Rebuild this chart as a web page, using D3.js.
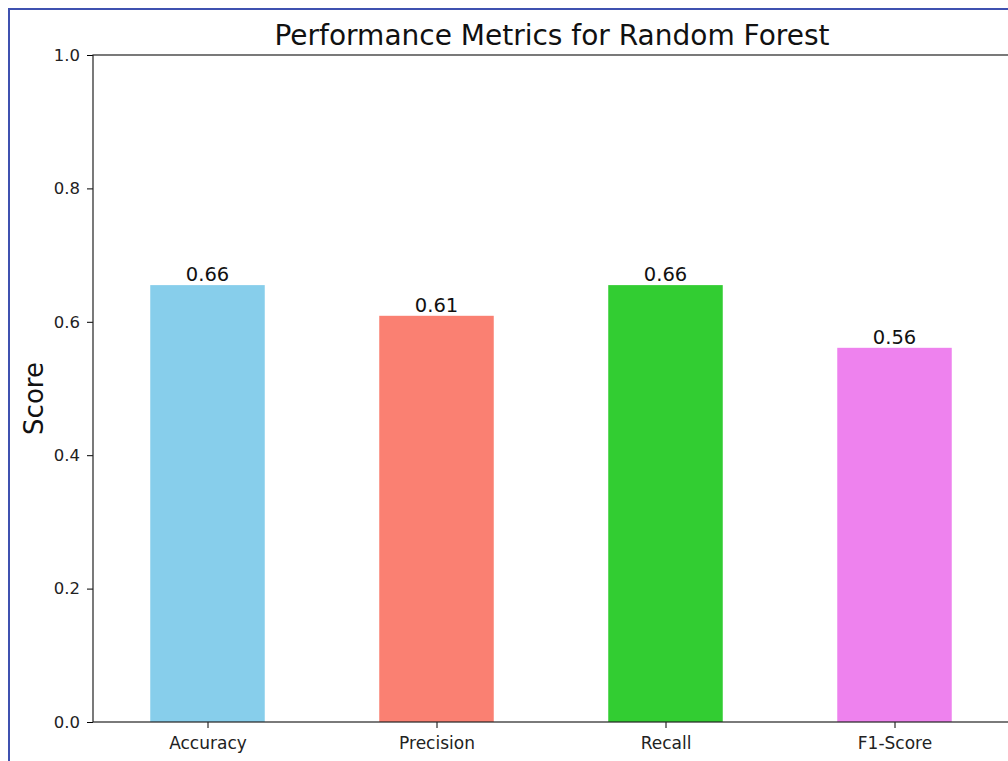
<!DOCTYPE html>
<html>
<head>
<meta charset="UTF-8">
<script src="https://cdnjs.cloudflare.com/ajax/libs/d3/7.8.2/d3.min.js"></script>
<style>
  body { margin: 0; background: #fff; overflow: hidden; }
  svg { display: block; font-family: "DejaVu Sans", sans-serif; }
</style>
</head>
<body>
<svg width="1008" height="761"></svg>
<script>
const metrics = ["Accuracy", "Precision", "Recall", "F1-Score"];
const scores = [0.655, 0.609, 0.655, 0.561];
const barColors = ["#87CEEB", "#FA8072", "#32CD32", "#EE82EE"];
const yTicks = [0.0, 0.2, 0.4, 0.6, 0.8, 1.0];

const svg = d3.select("svg");
const plotL = 93, plotR = 1009, plotT = 55, plotB = 722;

// outer frame of the screenshot
svg.append("rect")
  .attr("x", 9).attr("y", 9).attr("width", 1010).attr("height", 760)
  .attr("fill", "none").attr("stroke", "#3f51b0").attr("stroke-width", 2);

const x = d3.scaleLinear().domain([-0.5, metrics.length - 0.5]).range([plotL, plotR]);
const y = d3.scaleLinear().domain([0, 1]).range([plotB, plotT]);
const barW = x(0.5) - x(0);

svg.append("g").selectAll("rect")
  .data(scores)
  .enter().append("rect")
  .attr("x", (d, i) => x(i) - barW / 2)
  .attr("y", d => y(d))
  .attr("width", barW)
  .attr("height", d => y(0) - y(d))
  .attr("fill", (d, i) => barColors[i]);

svg.append("g").selectAll("text")
  .data(scores)
  .enter().append("text")
  .attr("x", (d, i) => x(i))
  .attr("y", d => y(d) - 4)
  .attr("text-anchor", "middle")
  .attr("font-size", 19.5)
  .attr("fill", "#111")
  .text(d => d.toFixed(2));

// axes
const yAxis = d3.axisLeft(y).tickValues(yTicks).tickFormat(d3.format(".1f")).tickSize(6).tickPadding(7);
svg.append("g").attr("transform", `translate(${plotL},0)`).call(yAxis)
  .call(g => g.select(".domain").remove())
  .selectAll("text").attr("font-size", 16.5).attr("font-family", "DejaVu Sans").attr("fill", "#222");

const xAxis = d3.axisBottom(x).tickValues(d3.range(metrics.length)).tickFormat(i => metrics[i]).tickSize(6).tickPadding(9);
svg.append("g").attr("transform", `translate(0,${plotB})`).call(xAxis)
  .call(g => g.select(".domain").remove())
  .selectAll("text").attr("font-size", 17).attr("font-family", "DejaVu Sans").attr("fill", "#222");

svg.append("rect")
  .attr("x", plotL).attr("y", plotT).attr("width", plotR - plotL).attr("height", plotB - plotT)
  .attr("fill", "none").attr("stroke", "#222").attr("stroke-width", 1.2);

svg.append("text")
  .attr("x", (plotL + plotR) / 2 + 1).attr("y", 45)
  .attr("text-anchor", "middle").attr("font-size", 28).attr("fill", "#111")
  .text("Performance Metrics for Random Forest");

svg.append("text")
  .attr("transform", `translate(43,${(plotT + plotB) / 2 + 10}) rotate(-90)`)
  .attr("text-anchor", "middle").attr("font-size", 26).attr("fill", "#111")
  .text("Score");
</script>
</body>
</html>
